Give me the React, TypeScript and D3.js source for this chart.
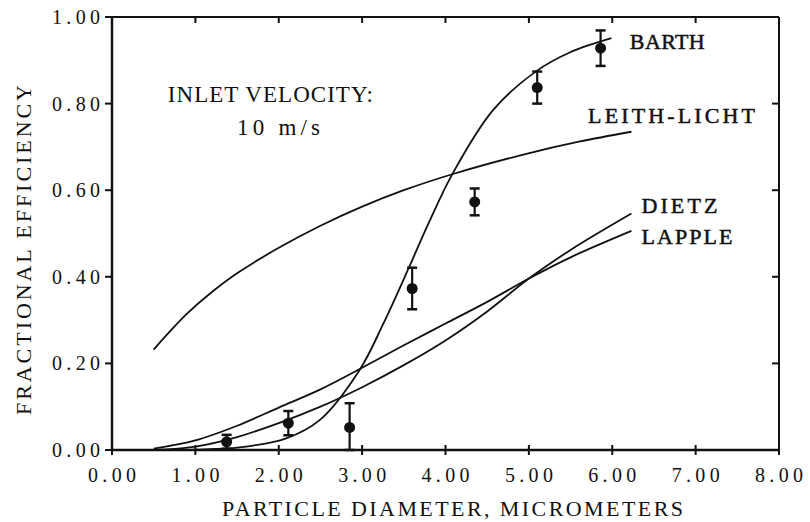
import * as d3 from "d3";

// curve data: [diameter (µm), fractional efficiency]
const barthCurve: [number, number][] = [
  [0.5, 0.0], [1.0, 0.001], [1.53, 0.006], [2.09, 0.027], [2.49, 0.069],
  [2.97, 0.185], [3.25, 0.29], [3.57, 0.425], [3.8, 0.525], [4.09, 0.64],
  [4.57, 0.785], [5.09, 0.875], [5.49, 0.918], [5.99, 0.951],
];
const leithLichtCurve: [number, number][] = [
  [0.5, 0.232], [0.7, 0.275], [0.9, 0.315], [1.18, 0.362], [1.5, 0.408],
  [2.0, 0.467], [2.5, 0.518], [3.0, 0.562], [3.5, 0.6], [4.1, 0.638],
  [4.97, 0.684], [5.6, 0.712], [6.23, 0.735],
];
const dietzCurve: [number, number][] = [
  [0.5, 0.0], [1.0, 0.008], [1.5, 0.03], [2.0, 0.062], [2.5, 0.1],
  [3.0, 0.145], [3.5, 0.196], [4.0, 0.253], [4.5, 0.32], [5.0, 0.396],
  [5.5, 0.462], [6.23, 0.546],
];
const lappleCurve: [number, number][] = [
  [0.5, 0.003], [1.0, 0.022], [1.5, 0.056], [2.0, 0.098], [2.5, 0.14],
  [3.0, 0.19], [3.5, 0.242], [4.0, 0.292], [4.5, 0.342], [5.0, 0.396],
  [5.5, 0.445], [6.23, 0.506],
];

// measured points with error bars
const measuredDiameter = [1.375, 2.115, 2.85, 3.6, 4.35, 5.1, 5.86];
const measuredEfficiency = [0.019, 0.062, 0.052, 0.373, 0.573, 0.837, 0.928];
const measuredError = [0.016, 0.028, 0.056, 0.048, 0.031, 0.037, 0.041];

const xTicks = [0, 1, 2, 3, 4, 5, 6, 7, 8];
const yTicks = [0, 0.2, 0.4, 0.6, 0.8, 1.0];

const W = 810;
const H = 522;

export default function App() {
  const x = d3.scaleLinear().domain([0, 8]).range([112, 779]);
  const y = d3.scaleLinear().domain([0, 1]).range([450, 17]);

  const line = d3
    .line<[number, number]>()
    .x((d) => x(d[0]))
    .y((d) => y(d[1]))
    .curve(d3.curveCatmullRom.alpha(0.5));

  const serif = "'Liberation Serif', 'DejaVu Serif', serif";
  const curves = [barthCurve, leithLichtCurve, dietzCurve, lappleCurve];

  return (
    <svg
      width={W}
      height={H}
      viewBox={`0 0 ${W} ${H}`}
      style={{ position: "absolute", left: 0, top: 0, background: "#fff" }}
    >
      {/* frame */}
      <g stroke="#111" fill="none">
        <line x1={x(0)} x2={x(8)} y1={y(1)} y2={y(1)} strokeWidth={2} />
        <line x1={x(8)} x2={x(8)} y1={y(1)} y2={y(0)} strokeWidth={2} />
        <line x1={x(0)} x2={x(0)} y1={y(1)} y2={y(0)} strokeWidth={2.5} />
        <line x1={x(0)} x2={x(8)} y1={y(0)} y2={y(0)} strokeWidth={2.5} />
      </g>

      {/* ticks */}
      <g stroke="#111" strokeWidth={2}>
        {xTicks.map((t) => (
          <g key={"xt" + t}>
            <line x1={x(t)} x2={x(t)} y1={y(0) - 5} y2={y(0) + 5} />
            <line x1={x(t)} x2={x(t)} y1={y(1)} y2={y(1) + 6} />
          </g>
        ))}
        {yTicks.map((t) => (
          <g key={"yt" + t}>
            <line x1={x(0) - 7} x2={x(0)} y1={y(t)} y2={y(t)} />
            <line x1={x(8) - 7} x2={x(8)} y1={y(t)} y2={y(t)} />
          </g>
        ))}
      </g>

      {/* tick labels */}
      <g fontFamily={serif} fontSize={20} fill="#111">
        {xTicks.map((t) => (
          <text
            key={"xl" + t}
            x={x(t) - 24}
            y={482}
            textLength={48}
            lengthAdjust="spacing"
          >
            {t.toFixed(2)}
          </text>
        ))}
        {yTicks.map((t) => (
          <text
            key={"yl" + t}
            x={x(0) - 12 - 48}
            y={y(t)}
            dominantBaseline="central"
            textLength={48}
            lengthAdjust="spacing"
          >
            {t.toFixed(2)}
          </text>
        ))}
      </g>

      {/* axis titles */}
      <text
        x={222}
        y={516}
        fontFamily={serif}
        fontSize={22}
        textLength={461}
        lengthAdjust="spacing"
        fill="#111"
      >
        PARTICLE DIAMETER, MICROMETERS
      </text>
      <text
        transform={`translate(31,415) rotate(-90)`}
        fontFamily={serif}
        fontSize={22}
        textLength={330}
        lengthAdjust="spacing"
        fill="#111"
      >
        FRACTIONAL EFFICIENCY
      </text>

      {/* model curves */}
      <g fill="none" stroke="#111" strokeWidth={1.8}>
        {curves.map((c, i) => (
          <path key={"c" + i} d={line(c) || ""} />
        ))}
      </g>

      {/* measured data with error bars */}
      <g stroke="#111" fill="#111">
        {measuredDiameter.map((d, i) => {
          const hi = measuredEfficiency[i] + measuredError[i];
          const lo = Math.max(0, measuredEfficiency[i] - measuredError[i]);
          return (
            <g key={"m" + i}>
              <line x1={x(d)} x2={x(d)} y1={y(hi)} y2={y(lo)} strokeWidth={2.2} />
              <line x1={x(d) - 5} x2={x(d) + 5} y1={y(hi)} y2={y(hi)} strokeWidth={2.5} />
              <line x1={x(d) - 5} x2={x(d) + 5} y1={y(lo)} y2={y(lo)} strokeWidth={2.5} />
              <circle cx={x(d)} cy={y(measuredEfficiency[i])} r={5.5} stroke="none" />
            </g>
          );
        })}
      </g>

      {/* annotations */}
      <g fontFamily={serif} fontSize={23} fill="#111">
        <text x={x(0.67)} y={y(0.804)} textLength={205} lengthAdjust="spacing">
          INLET VELOCITY:
        </text>
        <text x={x(1.5)} y={y(0.727)} textLength={83} lengthAdjust="spacing">
          10 m/s
        </text>
      </g>
      <g fontFamily={serif} fontSize={22} fill="#111" stroke="#111" strokeWidth={0.5}>
        <text x={x(6.21)} y={y(0.926)} textLength={75} lengthAdjust="spacing">
          BARTH
        </text>
        <text x={x(5.71)} y={y(0.755)} textLength={167} lengthAdjust="spacing">
          LEITH-LICHT
        </text>
        <text x={x(6.35)} y={y(0.547)} textLength={76} lengthAdjust="spacing">
          DIETZ
        </text>
        <text x={x(6.35)} y={y(0.476)} textLength={91} lengthAdjust="spacing">
          LAPPLE
        </text>
      </g>
    </svg>
  );
}
